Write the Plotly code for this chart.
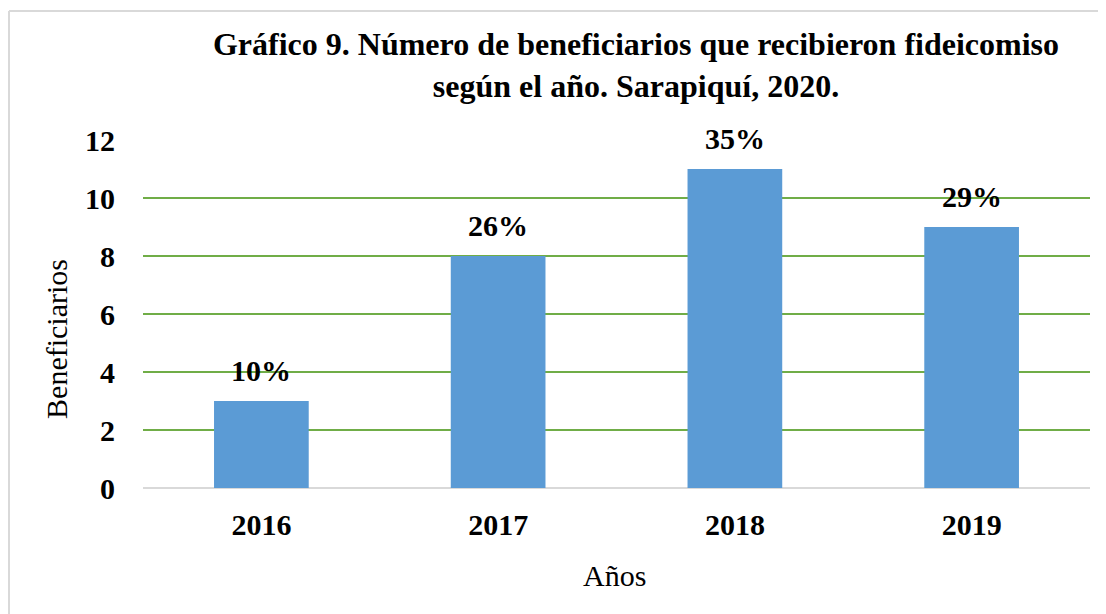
import plotly.graph_objects as go

years = ["2016", "2017", "2018", "2019"]
beneficiarios = [3, 8, 11, 9]
porcentajes = ["10%", "26%", "35%", "29%"]
y_ticks = [0, 2, 4, 6, 8, 10, 12]

FONT = "Liberation Serif, Times New Roman, serif"

W, H = 1098, 606
ML, MR, MT, MB = 135, 16, 132, 126
PW, PH = W - ML - MR, H - MT - MB

fig = go.Figure()
fig.add_trace(go.Bar(
    x=years, y=beneficiarios,
    marker=dict(color="#5b9bd5", line=dict(width=0)),
    hoverinfo="skip",
))

for i, (v, p) in enumerate(zip(beneficiarios, porcentajes)):
    fig.add_annotation(
        x=i, y=v, text="<b>%s</b>" % p, showarrow=False,
        xref="x", yref="y", yanchor="bottom", yshift=12,
        font=dict(family=FONT, size=30, color="black"),
    )

# y-axis title
fig.add_annotation(
    text="Beneficiarios", textangle=-90, showarrow=False,
    xref="paper", yref="paper", x=-0.092, y=0.428,
    xanchor="center", yanchor="middle",
    font=dict(family=FONT, size=30, color="black"),
)

# x-axis title
fig.add_annotation(
    text="Años", showarrow=False,
    xref="paper", yref="paper", x=(614 - 143) / 947, y=(488 - 575) / 348,
    xanchor="center", yanchor="middle",
    font=dict(family=FONT, size=30, color="black"),
)

# outer chart border (left and top edges visible in the frame)
bx0 = (1 - ML) / PW
by1 = (MT - 3) / PH + 1
fig.add_shape(type="line", xref="paper", yref="paper",
              x0=bx0, x1=bx0, y0=by1, y1=-MB / PH - 0.05,
              line=dict(color="#d9d9d9", width=2))
fig.add_shape(type="line", xref="paper", yref="paper",
              x0=bx0, x1=(W - ML + 5) / PW, y0=by1, y1=by1,
              line=dict(color="#d9d9d9", width=2))

fig.update_layout(
    width=W, height=H,
    margin=dict(l=ML, r=MR, t=MT, b=MB, autoexpand=False),
    paper_bgcolor="white", plot_bgcolor="white",
    bargap=0.6,
    showlegend=False,
    title=dict(
        text="<b>Gráfico 9. Número de beneficiarios que recibieron fideicomiso<br>según el año. Sarapiquí, 2020.</b>",
        xref="container", yref="container",
        x=628 / W, y=1 - 47 / H, xanchor="center", yanchor="middle",
        font=dict(family=FONT, size=32, color="black"),
    ),
    xaxis=dict(
        type="category", automargin=False, range=[-0.5, len(years) - 0.5],
        showgrid=False, showline=False, ticks="",
        tickfont=dict(family=FONT, size=30, color="black", weight="bold"),
        ticklabelstandoff=16,
    ),
    yaxis=dict(
        range=[0, 12], tickvals=y_ticks, automargin=False,
        showgrid=True, gridcolor="#70ad47", gridwidth=1.5,
        zeroline=True, zerolinecolor="#d9d9d9", zerolinewidth=2,
        showline=False, ticks="",
        tickfont=dict(family=FONT, size=30, color="black", weight="bold"),
        ticklabelstandoff=27,
    ),
)

fig.write_html("out.html")
